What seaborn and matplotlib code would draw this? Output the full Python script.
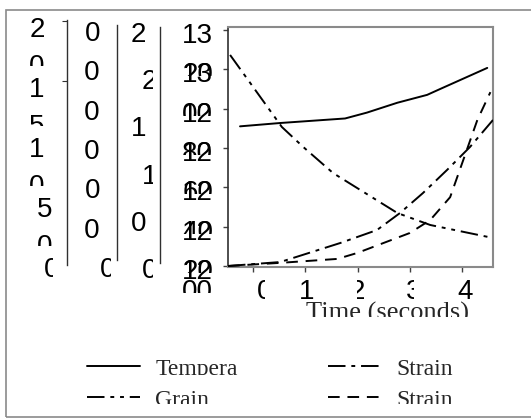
import seaborn as sns
import matplotlib.pyplot as plt
from matplotlib.transforms import Bbox
from matplotlib.patches import Rectangle

sns.set_style("white")
plt.rcParams['font.family'] = ['Liberation Sans', 'DejaVu Sans']

W, H = 531, 418

# values, time in seconds
temp_t = [-0.25, 0.52, 1.76, 2.18, 2.76, 3.33, 3.58, 4.48]
temp_v = [1271, 1272.7, 1275, 1278, 1283, 1287, 1290, 1300.7]
grain_t = [-0.44, 0.55, 0.96, 1.53, 2.76, 3.39, 4.59]
grain_v = [171.7, 111.7, 95, 73.3, 40, 30, 19.2]
strain_t = [-0.48, 0.52, 1.67, 2.37, 2.81, 3.25, 3.71, 4.15, 4.59]
strain_v = [0, 0.042, 0.244, 0.381, 0.561, 0.773, 1.017, 1.261, 1.547]
rate_t = [-0.48, 0.52, 1.61, 1.99, 3.0, 3.39, 3.77, 4.02, 4.29, 4.54]
rate_v = [0, 0.0008, 0.0018, 0.0033, 0.0084, 0.0117, 0.0175, 0.0269, 0.0371, 0.0442]

x_ticks = [0, 1, 2, 3, 4]
x_labels = ["0", "1", "2", "3", "4"]
temp_ticks = [1320, 1300, 1280, 1260, 1240, 1220, 1200]
temp_labels = ["1320", "1300", "1280", "1260", "1240", "1220", "1200"]
grain_ticks = [200, 150, 100, 50, 0]
grain_labels = ["200", "150", "100", "50", "0"]
rate_ticks = [0.06, 0.05, 0.04, 0.03, 0.02, 0.01, 0]
rate_labels = ["0.060", "0.050", "0.040", "0.030", "0.020", "0.010", "0"]
strain_ticks = [2.5, 2, 1.5, 1, 0.5, 0]
strain_labels = ["2.5", "2", "1.5", "1", "0.5", "0"]
legend_labels = ["Tempera", "Grain", "Strain", "Strain"]

PT = 0.72  # points per pixel at 100 dpi


def box(x0, y0, x1, y1):
    return [x0 / W, 1 - y1 / H, (x1 - x0) / W, (y1 - y0) / H]


def put(x, y, s, clip=None, **kw):
    t = fig.text(x / W, 1 - y / H, s, **kw)
    if clip is not None:
        x0, y0, x1, y1 = clip
        t.set_clip_box(Bbox.from_extents(x0, H - y1, x1, H - y0))
        t.set_clip_on(True)
    return t


def py(a, v):
    return H - a.transData.transform((0, v))[1]


def px(a, v):
    return a.transData.transform((v, 0))[0]


def vy(a, p):
    return a.transData.inverted().transform((0, H - p))[1]


fig = plt.figure(figsize=(W / 100, H / 100), dpi=100)
fig.add_artist(Rectangle((6 / W, 1 - 417 / H), 540 / W, 407 / H, transform=fig.transFigure,
                         fill=False, ec='#8a8a8a', lw=1.2))

ax = fig.add_axes(box(228, 27, 493, 267))
ax_a = fig.add_axes(box(228, 20, 493, 265), sharex=ax, facecolor='none')
ax_b = fig.add_axes(box(228, 27, 493, 267), sharex=ax, facecolor='none')
ax_c = fig.add_axes(box(228, 27, 493, 267), sharex=ax, facecolor='none')

ax.set_xlim(-0.48, 4.59)
ax.set_ylim(1199.5, 1321.5)
ax_a.set_ylim(-3.33, 200.83)
ax_b.set_ylim(-0.000254, 0.060762)
ax_c.set_ylim(-0.0106, 2.5318)

lw = 1.4
sns.lineplot(x=temp_t, y=temp_v, ax=ax, color='black', lw=lw, errorbar=None)
sns.lineplot(x=grain_t, y=grain_v, ax=ax_a, color='black', lw=lw, errorbar=None,
             linestyle=(0, (9, 3, 2, 3, 2, 3)))
sns.lineplot(x=strain_t, y=strain_v, ax=ax_c, color='black', lw=lw, errorbar=None,
             linestyle=(0, (9, 3, 2, 3)))
sns.lineplot(x=rate_t, y=rate_v, ax=ax_b, color='black', lw=lw, errorbar=None,
             linestyle=(0, (6, 4)))
h_temp, h_grain, h_strain, h_rate = ax.lines[0], ax_a.lines[0], ax_c.lines[0], ax_b.lines[0]

# main frame
for side in ['top', 'right', 'bottom']:
    ax.spines[side].set_color('#8a8a8a')
    ax.spines[side].set_linewidth(1.5)
ax.spines['left'].set_color('#303030')
ax.spines['left'].set_linewidth(1.2)
ax.set_xticks(x_ticks)
ax.set_yticks(temp_ticks)
ax.tick_params(axis='both', direction='out', length=5 * PT, width=1, color='#404040',
               labelleft=False, labelbottom=False, left=True, bottom=True)
ax.set_xlabel('')
ax.set_ylabel('')

# extra left axes, spines pushed out to the left
for a, spine_x, top, bot in [(ax_a, 67, 20, 265), (ax_b, 117, 25, 260), (ax_c, 160, 27, 263)]:
    for side in ['top', 'right', 'bottom']:
        a.spines[side].set_visible(False)
    a.spines['left'].set_position(('outward', (228 - spine_x) * PT))
    a.spines['left'].set_color('#303030')
    a.spines['left'].set_linewidth(1)
    a.spines['left'].set_bounds(vy(a, bot), vy(a, top))
    a.tick_params(axis='x', bottom=False, labelbottom=False)
    a.tick_params(axis='y', left=True, labelleft=False, length=5 * PT, color='#303030',
                  direction='out')
    a.set_xlabel('')
    a.set_ylabel('')
ax_a.set_yticks(grain_ticks[:2])
ax_b.set_yticks([])
ax_c.set_yticks([])
ax_a.set_ylim(-3.33, 200.83)

num = dict(fontsize=20, color='black')

# temperature labels, wrapped in two lines that run into each other
for i, (v, s) in enumerate(zip(temp_ticks, temp_labels)):
    y = py(ax, v) + 6
    put(213, y, s[:2], ha='right', va='center', **num)
    y2 = py(ax, temp_ticks[i + 1]) + 6 if i + 1 < len(temp_ticks) else y + 20
    put(213, y2, s[2:], clip=(150, y2 - 12, 222, y2 + 1), ha='right', va='center', **num)

# grain axis: one digit per line
a_x = [37, 37, 37, 45, 52]
for v, s, x in zip(grain_ticks, grain_labels, a_x):
    y = py(ax_a, v) + 9
    clip = (10, y - 12, 53, y + 36)
    for k, ch in enumerate(s):
        put(x, y + 37 * k, ch, clip=clip, ha='center', va='center', **num)

# strain rate axis
b_x = [101] * 6 + [115]
for v, s, x in zip(rate_ticks, rate_labels, b_x):
    y = py(ax_b, v) + 4
    put(x, y, s, clip=(85, y - 14, 111, y + 14), ha='right', va='center', **num)

# strain axis
c_x = [131, 142, 131, 142, 131, 142]
c_end = [147, 153, 147, 153, 147, 153]
for v, s, x, x1 in zip(strain_ticks, strain_labels, c_x, c_end):
    y = py(ax_c, v) + 5
    put(x, y, s, clip=(122, y - 14, x1, y + 14), ha='left', va='center', **num)

# time labels
x_shift = [12, 1, 0, 4, 3]
x_clip = [(-20, 0), (-20, 20), (-1, 20), (-20, 0), (-20, 20)]
for v, s, dx, (c0, c1) in zip(x_ticks, x_labels, x_shift, x_clip):
    x = px(ax, v) + dx
    put(x, 292, s, clip=(x + c0, 270, x + c1, 299), ha='center', va='center', **num)

put(388, 320, 'Time (seconds)', clip=(0, 290, W, 317), ha='center', va='baseline',
    fontsize=19, family='Liberation Serif')

leg = fig.legend(handles=[h_temp, h_grain, h_strain, h_rate], labels=legend_labels,
                 ncol=2, loc='upper left', bbox_to_anchor=(87 / W, 1 - 358 / H),
                 frameon=False, prop={'family': 'Liberation Serif', 'size': 17},
                 handlelength=2.25, handletextpad=0.65, columnspacing=3.8,
                 labelspacing=0.4, borderpad=0, borderaxespad=0)
for i, t in enumerate(leg.get_texts()):
    lim = (0, 340, W, 375) if i in (0, 2) else (0, 384, W, 404)
    t.set_clip_box(Bbox.from_extents(lim[0], H - lim[3], lim[2], H - lim[1]))
    t.set_clip_on(True)

fig.savefig('out.png', dpi=100)
